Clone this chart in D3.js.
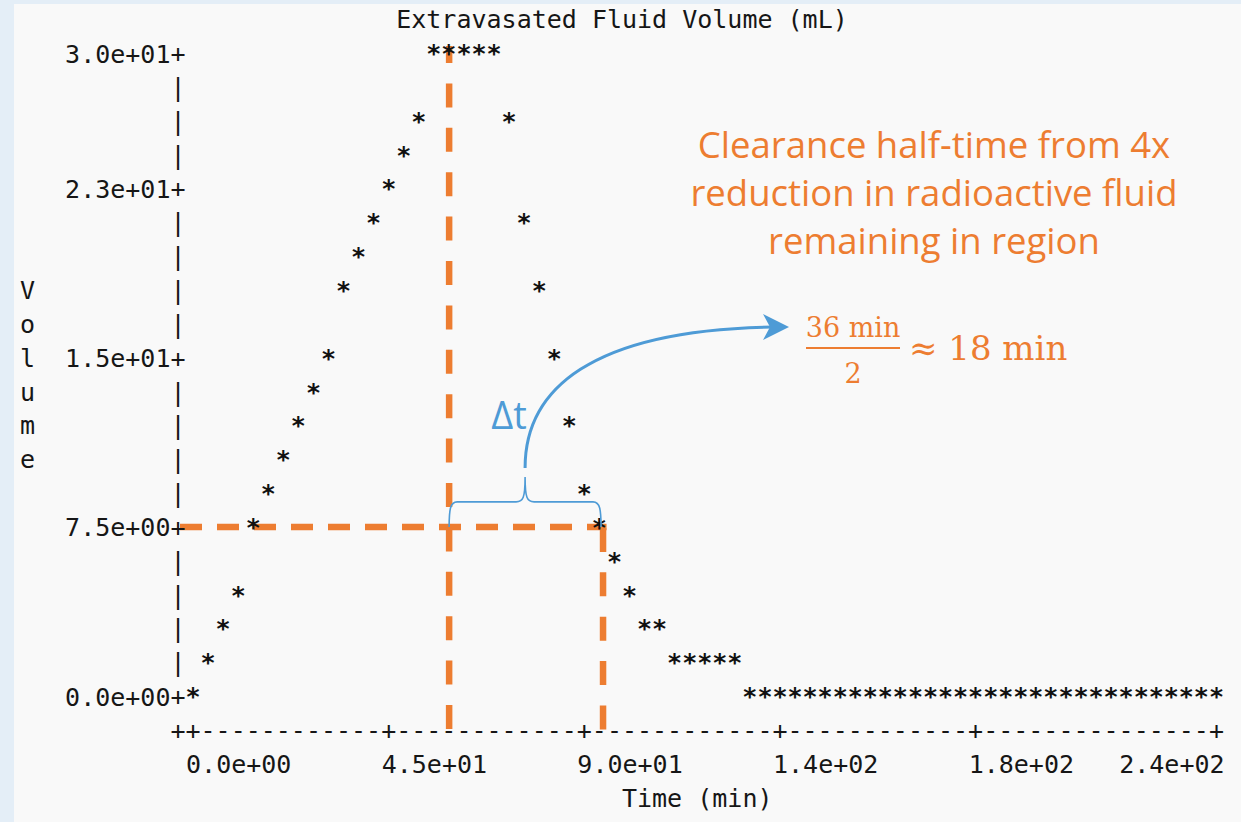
<!DOCTYPE html>
<html>
<head>
<meta charset="utf-8">
<script src="https://cdn.jsdelivr.net/npm/d3@7"></script>
<style>
body{margin:0;background:#e4eef7;}
svg{display:block;}
.mono{font-family:"DejaVu Sans Mono",monospace;font-size:25px;fill:#161616;}
.pt{font-weight:bold;fill:#111;}
.note{font-family:"Open Sans",sans-serif;fill:#ed7d31;}
.math{font-family:"DejaVu Serif",serif;fill:#ed7d31;}
</style>
</head>
<body>
<svg id="chart" width="1241" height="822"></svg>
<script>
// sample times (min) and extravasated volume (mL)
var times = [0,3.5,6.9,10.4,13.8,17.3,20.8,24.2,27.7,31.2,34.6,38.1,41.5,45.0,48.5,51.9,55.4,58.8,62.3,65.8,
	69.2,72.7,76.2,79.6,83.1,86.5,90.0,93.5,96.9,100.4,103.8,107.3,110.8,114.2,117.7,121.2,124.6,128.1,131.5,135.0,
	138.5,141.9,145.4,148.8,152.3,155.8,159.2,162.7,166.2,169.6,173.1,176.5,180.0,183.5,186.9,190.4,193.8,197.3,200.8,204.2,
	207.7,211.2,214.6,218.1,221.5,225.0,228.5,231.9,235.4];
var volumes = [0,1.4,3.1,4.6,7.4,9.1,10.6,12.0,13.4,15.1,17.9,19.6,21.1,22.4,23.9,25.4,28.3,28.6,28.5,28.4,
	28.2,25.6,21.2,17.8,15.0,12.1,9.2,7.5,6.1,4.4,3.2,2.7,2.0,1.7,1.4,1.1,0.9,0.6,0.5,0.4,
	0.4,0.3,0.3,0.2,0.2,0.2,0.1,0.1,0.1,0.1,0,0,0,0,0,0,0,0,0,0,
	0,0,0,0,0,0,0,0,0];

var xTickValues = [0,45,90,135,180,235.4];
var xTickLabels = ["0.0e+00","4.5e+01","9.0e+01","1.4e+02","1.8e+02","2.4e+02"];
var yTickValues = [0,7.5,15,22.5,28.5];
var yTickLabels = ["0.0e+00","7.5e+00","1.5e+01","2.3e+01","3.0e+01"];

var chartTitle = "Extravasated Fluid Volume (mL)";
var xTitle = "Time (min)";
var yTitle = "Volume";

// annotation values
var peakTime = 58.9, halfTime = 94.3, halfLevel = 7.5;
var noteLines = ["Clearance half-time from 4x","reduction in radioactive fluid","remaining in region"];

var orange = "#ed7d31", blue = "#4e9bd6";

// character grid of the text plot
var cw = 15.05, rowH = 33.85, col0 = 27.5, row0 = 62;
function colX(c) {return col0 + c*cw;}
function rowY(r) {return row0 + r*rowH;}
function colOf(px) {return Math.round((px - col0)/cw);}
function rowOf(py) {return Math.round((py - row0)/rowH);}

var x = d3.scaleLinear().domain([0,45]).range([colX(11), colX(24)]);
var y = d3.scaleLinear().domain([0,7.5]).range([rowY(19), rowY(14)]);

var svg = d3.select("#chart");
svg.append("rect").attr("x",14).attr("y",4).attr("width",1227).attr("height",818).attr("fill","#f9f9f9");

var axisCol = colOf(x(0)) - 1;
var axisX = colX(axisCol);
var bottomRow = rowOf(y(0));
var topRow = rowOf(y(yTickValues[yTickValues.length-1]));
var mid = function(v) {return y(v) - 9;};

// orange dashed guides
var guides = svg.append("g").attr("stroke",orange).attr("stroke-width",6.5).attr("fill","none");
guides.append("line")
	.attr("x1",axisX+2).attr("x2",x(halfTime)+3.5)
	.attr("y1",mid(halfLevel)).attr("y2",mid(halfLevel))
	.attr("stroke-dasharray","22 15");
guides.append("line")
	.attr("x1",x(peakTime)).attr("x2",x(peakTime))
	.attr("y1",y(28.5)-16).attr("y2",rowY(bottomRow+1)-9)
	.attr("stroke-dasharray","24 20.4").attr("stroke-dashoffset",7);
guides.append("line")
	.attr("x1",x(halfTime)).attr("x2",x(halfTime))
	.attr("y1",mid(halfLevel)+1).attr("y2",rowY(bottomRow+1)-9)
	.attr("stroke-dasharray","24 20.4");

// y axis drawn with characters
var tickRows = yTickValues.map(function(v) {return rowOf(y(v));});
svg.append("g").selectAll("text")
	.data(d3.range(topRow, bottomRow+1))
	.join("text").attr("class","mono")
	.attr("x",axisX).attr("y",function(r) {return rowY(r);})
	.attr("text-anchor","middle")
	.text(function(r) {return tickRows.indexOf(r) >= 0 ? "+" : "|";});

// x axis drawn with characters
var tickCols = xTickValues.map(function(t) {return colOf(x(t));});
var lastCol = tickCols[tickCols.length-1];
svg.append("g").selectAll("text")
	.data(d3.range(axisCol, lastCol+1))
	.join("text").attr("class","mono")
	.attr("x",function(c) {return colX(c);}).attr("y",rowY(bottomRow+1))
	.attr("text-anchor","middle")
	.text(function(c) {return (c === axisCol || tickCols.indexOf(c) >= 0) ? "+" : "-";});

// tick labels through d3 axes
var yAxis = d3.axisLeft(y).tickValues(yTickValues)
	.tickFormat(function(d,i) {return yTickLabels[i];})
	.tickSize(0).tickPadding(0);
var gy = svg.append("g").attr("transform","translate("+(axisX - cw/2)+",0)").call(yAxis);
gy.select(".domain").remove();
gy.selectAll("text").attr("dy",null).attr("class","mono");

var xAxis = d3.axisBottom(x).tickValues(xTickValues)
	.tickFormat(function(d,i) {return xTickLabels[i];})
	.tickSize(0).tickPadding(0);
var gx = svg.append("g").attr("transform","translate(0,"+rowY(bottomRow+2)+")").call(xAxis);
gx.select(".domain").remove();
gx.selectAll("text").attr("dy",null).attr("class","mono")
	.attr("text-anchor",function(d,i) {return i === xTickValues.length-1 ? "end" : "start";})
	.attr("x",function(d,i) {return i === xTickValues.length-1 ? cw/2 : -cw/2;});

// titles
svg.append("text").attr("class","mono").attr("x",colX(25)-cw/2).attr("y",rowY(topRow-1)).text(chartTitle);
svg.append("text").attr("class","mono").attr("x",colX(40)-cw/2).attr("y",rowY(bottomRow+3)).text(xTitle);
svg.append("g").selectAll("text")
	.data(yTitle.split(""))
	.join("text").attr("class","mono")
	.attr("x",colX(0)).attr("text-anchor","middle")
	.attr("y",function(d,i) {return rowY(7+i);})
	.text(function(d) {return d;});

// data points, snapped to the character grid
svg.append("g").selectAll("text")
	.data(times)
	.join("text").attr("class","mono pt")
	.attr("x",function(d) {return colX(colOf(x(d)));})
	.attr("y",function(d,i) {return rowY(rowOf(y(volumes[i])));})
	.attr("text-anchor","middle")
	.text("*");

// blue brace marking delta t
var xl = x(peakTime), xr = x(halfTime)-2, xm = (xl+xr)/2;
var yb = mid(halfLevel), yh = yb-25, yt = yb-50;
var brace = d3.path();
brace.moveTo(xl,yb);
brace.bezierCurveTo(xl,yh+8,xl+1,yh,xl+8,yh);
brace.lineTo(xm-9,yh);
brace.bezierCurveTo(xm-2,yh,xm,yh-4,xm,yt);
brace.bezierCurveTo(xm,yh-4,xm+2,yh,xm+9,yh);
brace.lineTo(xr-8,yh);
brace.bezierCurveTo(xr-1,yh,xr,yh+8,xr,yb);
svg.append("path").attr("d",brace.toString()).attr("fill","none").attr("stroke",blue).attr("stroke-width",1.6);

svg.append("text").attr("x",xm-16).attr("y",429).attr("text-anchor","middle")
	.attr("font-family","Open Sans, sans-serif").attr("font-size",38).attr("fill",blue).text("\u0394t");

// curved arrow to the result
var tipX = 789, tipY = 327;
var arrow = d3.path();
arrow.moveTo(xm,yt-9);
arrow.bezierCurveTo(xm,390,590,tipY+3,tipX-16,tipY);
svg.append("path").attr("d",arrow.toString()).attr("fill","none").attr("stroke",blue).attr("stroke-width",3);
svg.append("path")
	.attr("d","M"+tipX+","+tipY+" L"+(tipX-26)+","+(tipY-13)+" L"+(tipX-19)+","+tipY+" L"+(tipX-26)+","+(tipY+13)+" Z")
	.attr("fill",blue);

// explanatory text
svg.append("g").selectAll("text")
	.data(noteLines)
	.join("text").attr("class","note")
	.attr("x",934).attr("y",function(d,i) {return 158 + i*48;})
	.attr("text-anchor","middle").attr("font-size",36.5)
	.text(function(d) {return d;});

// 36 min / 2 ~ 18 min
var fx = 853;
svg.append("text").attr("class","math").attr("x",fx).attr("y",337).attr("text-anchor","middle").attr("font-size",27).text("36 min");
svg.append("line").attr("x1",806).attr("x2",900).attr("y1",348).attr("y2",348).attr("stroke",orange).attr("stroke-width",2);
svg.append("text").attr("class","math").attr("x",fx).attr("y",383).attr("text-anchor","middle").attr("font-size",27).text("2");
svg.append("text").attr("class","math").attr("x",909).attr("y",360).attr("font-size",34).text("\u2248 18 min");
</script>
</body>
</html>
